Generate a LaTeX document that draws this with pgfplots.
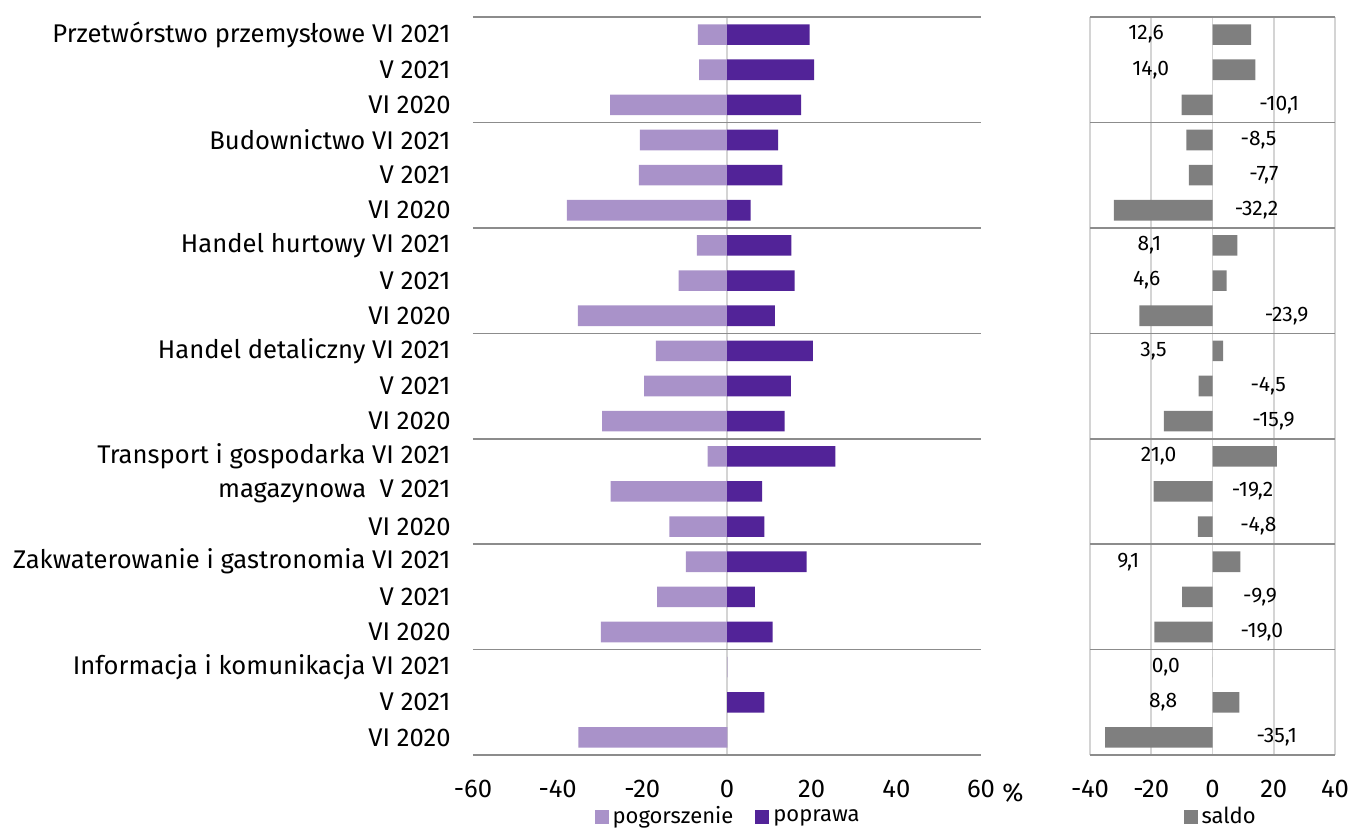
\documentclass[border=0pt]{standalone}
\usepackage{fontspec}
\setmainfont{Fira Sans}
\usepackage{pgfplots}
\usepackage{pgfplotstable}
\pgfplotsset{compat=1.18}

\definecolor{pog}{HTML}{A992C9}
\definecolor{pop}{HTML}{522398}
\definecolor{sal}{HTML}{7F7F7F}
\definecolor{sep}{HTML}{8C8C8C}
\definecolor{zer}{HTML}{D4D4D4}

% row, pogorszenie, poprawa, saldo, x of the saldo label
\pgfplotstableread{
row pog pop saldo labx
1 -6.9 19.5 12.6 -21.7
2 -6.6 20.6 14.0 -20.2
3 -27.6 17.5 -10.1 21.8
4 -20.6 12.1 -8.5 15.0
5 -20.8 13.1 -7.7 16.8
6 -37.8 5.6 -32.2 14.4
7 -7.1 15.2 8.1 -20.6
8 -11.4 16.0 4.6 -21.5
9 -35.2 11.3 -23.9 24.2
10 -16.8 20.3 3.5 -19.3
11 -19.6 15.1 -4.5 18.2
12 -29.5 13.6 -15.9 19.9
13 -4.6 25.6 21.0 -17.6
14 -27.5 8.3 -19.2 13.1
15 -13.6 8.8 -4.8 15.0
16 -9.7 18.8 9.1 -27.5
17 -16.5 6.6 -9.9 15.5
18 -29.8 10.8 -19.0 16.1
19 0 0 0 -15.2
20 0 8.8 8.8 -16.1
21 -35.1 0 -35.1 21.0
}\dane

\begin{document}
\fontsize{12.8}{15}\selectfont
\begin{tikzpicture}
\useasboundingbox (0,0) rectangle (675pt,413.5pt);
\pgfplotsset{
  panel/.style={
    scale only axis, height=369pt,
    y dir=reverse, ymin=0.5, ymax=21.5,
    xbar, bar width=10.3pt, bar shift=0pt,
    axis line style={draw=none},
    tick style={draw=none},
    extra y ticks={0.5,3.5,...,21.5},
    extra y tick labels={},
    extra y tick style={grid=major, major grid style={sep, line width=0.8pt}},
    /pgf/number format/assume math mode=true,
    xticklabel style={font=\fontsize{12.8}{15}\selectfont, yshift=-8pt},
    legend style={draw=none, fill=none, legend columns=-1, anchor=center,
      font=\fontsize{11}{13}\selectfont,
      nodes={inner xsep=2pt},
      /tikz/every even column/.append style={column sep=9pt}},
    legend image code/.code={\fill[##1] (0pt,-3.5pt) rectangle (7pt,3.5pt);},
  }
}
\begin{axis}[panel, at={(236.5pt,36pt)}, anchor=south west, width=254pt,
  xmin=-60, xmax=60, xtick={-60,-40,...,60},
  extra x ticks={0}, extra x tick labels={},
  extra x tick style={grid=major, major grid style={zer, line width=0.8pt}},
  ytick={1,...,21},
  yticklabels={Przetwórstwo przemysłowe VI 2021, V 2021, VI 2020,
    Budownictwo VI 2021, V 2021, VI 2020,
    Handel hurtowy VI 2021, V 2021, VI 2020,
    Handel detaliczny VI 2021, V 2021, VI 2020,
    Transport i gospodarka VI 2021, magazynowa\ \ V 2021, VI 2020,
    Zakwaterowanie i gastronomia VI 2021, V 2021, VI 2020,
    Informacja i komunikacja VI 2021, V 2021, VI 2020},
  yticklabel style={xshift=-2.5pt, font=\fontsize{12.8}{15}\selectfont},
  xlabel={\%}, xlabel style={at={(axis description cs:1.063,-0.0515)}, anchor=center},
  legend style={at={(0.504,-0.084)}},
]
\addplot[fill=pog, draw=none] table[x=pog, y=row]{\dane};
\addlegendentry{pogorszenie}
\addplot[fill=pop, draw=none] table[x=pop, y=row]{\dane};
\addlegendentry{poprawa}
\end{axis}

\begin{axis}[panel, at={(545pt,36pt)}, anchor=south west, width=122.5pt,
  xmin=-40, xmax=40, xtick={-40,-20,...,40},
  xmajorgrids, major grid style={zer, line width=0.8pt},
  ytick=\empty,
  legend style={at={(0.537,-0.084)}},
]
\addplot[fill=sal, draw=none] table[x=saldo, y=row]{\dane};
\addlegendentry{saldo}
\addplot[forget plot, only marks, mark=*, mark size=0pt, mark options={draw=none, fill=none},
  point meta=\thisrow{saldo},
  nodes near coords={\pgfmathprintnumber[fixed, fixed zerofill, precision=1, use comma]{\pgfplotspointmeta}},
  every node near coord/.append style={anchor=center, font=\fontsize{10.5}{12}\selectfont}]
  table[x=labx, y=row]{\dane};
\end{axis}
\end{tikzpicture}
\end{document}
